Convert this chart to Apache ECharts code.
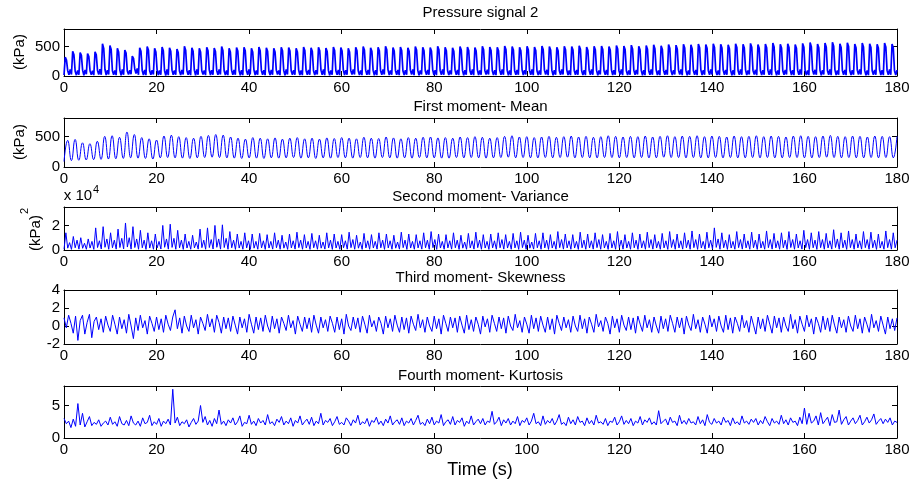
<!DOCTYPE html>
<html>
<head>
<meta charset="utf-8">
<script src="https://cdn.jsdelivr.net/npm/echarts@6/dist/echarts.min.js"></script>
<style>
  html, body { margin: 0; padding: 0; background: #fff; }
  #chart { width: 915px; height: 484px; }
</style>
</head>
<body>
<div id="chart"></div>
<script>
// record length (s), signals are evenly sampled over it
const duration = 180

const titles = ['Pressure signal 2', 'First moment- Mean', 'Second moment- Variance', 'Third moment- Skewness', 'Fourth moment- Kurtosis']
const yTickLabels = [[0, 500], [0, 500], [0, 20000], [-2, 0, 2, 4], [0, 5]]

// raw pressure (kPa), read cycle by cycle
const pressure = [
  15, 320, 270, 90, 20, 110,  25, 420, 360, 80, 15, 95,  20, 400, 350, 100, 10, 105,  30, 380, 330, 85, 20, 90,
  15, 410, 360, 95, 25, 115,  20, 550, 470, 110, 15, 100,  25, 520, 450, 90, 20, 95,  15, 470, 410, 100, 10, 110,
  20, 440, 390, 85, 25, 100,  30, 340, 300, 120, 40, 130,  20, 480, 420, 95, 15, 105,  15, 500, 440, 90, 20, 100,
  25, 470, 410, 105, 15, 95,  20, 495, 430, 90, 10, 110,  15, 480, 420, 100, 20, 95,  20, 460, 400, 85, 15, 105,
  25, 505, 440, 95, 20, 100,  15, 480, 420, 100, 10, 110,  20, 470, 410, 90, 25, 95,  15, 490, 430, 105, 15, 100,
  20, 475, 415, 95, 20, 110,  25, 500, 435, 90, 15, 95,  15, 470, 410, 100, 20, 105,  20, 485, 425, 95, 10, 100,
  15, 490, 430, 90, 20, 110,  25, 470, 410, 105, 15, 95,  20, 495, 430, 95, 20, 100,  15, 480, 420, 90, 15, 105,
  20, 470, 410, 100, 25, 95,  15, 490, 430, 95, 10, 110,  25, 485, 425, 90, 20, 100,  20, 470, 410, 105, 15, 95,
  15, 495, 435, 95, 20, 105,  20, 480, 420, 90, 15, 100,  25, 490, 430, 100, 20, 110,  15, 475, 415, 95, 10, 95,
  20, 495, 435, 90, 20, 105,  15, 485, 425, 105, 15, 100,  20, 470, 410, 95, 25, 110,  25, 490, 430, 90, 15, 95,
  15, 500, 440, 100, 20, 105,  20, 480, 420, 95, 10, 100,  15, 490, 430, 90, 20, 110,  25, 505, 445, 105, 15, 95,
  20, 485, 425, 95, 20, 105,  15, 495, 435, 90, 15, 100,  20, 480, 420, 100, 25, 110,  15, 500, 440, 95, 10, 95,
  25, 490, 430, 90, 20, 105,  20, 485, 425, 105, 15, 100,  15, 505, 445, 95, 20, 110,  20, 490, 430, 90, 15, 95,
  25, 480, 420, 100, 20, 105,  15, 500, 440, 95, 10, 100,  20, 495, 435, 90, 20, 110,  15, 485, 425, 105, 15, 95,
  20, 505, 445, 95, 25, 105,  25, 495, 435, 90, 15, 100,  15, 490, 430, 100, 20, 110,  20, 510, 450, 95, 10, 95,
  15, 500, 440, 90, 20, 105,  20, 490, 430, 105, 15, 100,  25, 505, 445, 95, 20, 110,  15, 495, 435, 90, 15, 95,
  20, 510, 450, 100, 25, 105,  15, 500, 440, 95, 10, 100,  20, 490, 430, 90, 20, 110,  25, 505, 445, 105, 15, 95,
  15, 500, 440, 95, 20, 105,  20, 515, 455, 90, 15, 100,  15, 495, 435, 100, 20, 110,  20, 505, 445, 95, 10, 95,
  25, 510, 450, 90, 20, 105,  15, 500, 440, 105, 15, 100,  20, 520, 460, 95, 25, 110,  15, 510, 450, 90, 15, 95,
  20, 525, 460, 100, 20, 105,  25, 505, 445, 95, 10, 100,  15, 520, 455, 90, 20, 110,  20, 530, 465, 105, 15, 95,
  15, 515, 450, 95, 20, 105,  20, 535, 470, 90, 15, 100,  25, 525, 460, 100, 25, 110,  15, 540, 475, 95, 10, 95,
  20, 530, 465, 90, 20, 105,  15, 545, 480, 105, 15, 100,  20, 535, 470, 95, 20, 110,  25, 550, 485, 90, 15, 95,
  15, 540, 475, 100, 20, 105,  20, 530, 465, 95, 10, 100,  15, 550, 485, 90, 20, 110,  20, 540, 475, 105, 15, 95,
  25, 555, 490, 95, 25, 105,  15, 535, 470, 90, 15, 100,  20, 545, 480, 100, 20, 110,  15, 560, 495, 95, 10, 95,
  20, 540, 475, 90, 20, 105,  25, 550, 485, 105, 15, 100,  15, 535, 470, 95, 20, 110,  20, 555, 490, 90, 15, 95,
  15, 570, 500, 100, 25, 105,  20, 545, 480, 95, 10, 100,  25, 560, 495, 90, 20, 110,  15, 575, 505, 105, 15, 95,
  20, 550, 485, 95, 20, 105,  15, 565, 500, 90, 15, 100,  20, 545, 480, 100, 25, 110,  25, 560, 495, 95, 10, 95,
  15, 550, 485, 90, 20, 105,  20, 540, 475, 105, 15, 100,  15, 560, 495, 95, 20, 110,  20, 545, 480, 90, 15, 100
]

// running mean (kPa): trough, crest, trough, crest ...
const mean = [
  90, 435, 105, 450, 110, 395, 115, 380, 120, 420, 125, 500, 130, 510, 135, 485, 140, 570, 150, 530,
  145, 480, 140, 460, 130, 440, 150, 505, 155, 520, 150, 495, 145, 480, 140, 470, 150, 500, 155, 515,
  160, 530, 155, 520, 150, 490, 145, 470, 140, 455, 150, 480, 145, 470, 140, 460, 150, 475, 145, 455,
  150, 470, 155, 480, 145, 460, 150, 470, 140, 455, 150, 475, 145, 465, 155, 480, 150, 470, 145, 460,
  155, 485, 150, 470, 145, 465, 155, 490, 150, 475, 145, 460, 150, 480, 145, 470, 155, 485, 150, 490,
  150, 475, 145, 480, 145, 470, 155, 490, 150, 480, 155, 495, 150, 485, 145, 470, 150, 480, 155, 500,
  160, 510, 150, 490, 155, 495, 150, 480, 150, 490, 155, 500, 150, 485, 155, 495, 160, 505, 150, 490,
  155, 500, 150, 485, 150, 495, 155, 510, 155, 500, 150, 490, 155, 500, 150, 495, 155, 505, 150, 490,
  150, 500, 160, 510, 155, 495, 155, 505, 150, 500, 155, 510, 150, 495, 150, 505, 155, 500, 150, 490,
  155, 505, 150, 495, 150, 500, 155, 510, 150, 495, 155, 505, 150, 500, 150, 490, 155, 505, 155, 510,
  150, 500, 150, 495, 155, 505, 160, 515, 155, 500, 150, 495, 155, 505, 150, 500, 150, 490, 155, 505,
  150, 500, 155, 495, 150, 500
]

// running variance (kPa^2): base, main spike, dip, second spike per cycle
const variance = [
  600, 14000, 1500, 6000,  500, 11000, 1800, 8000,  700, 10000, 1400, 5500,  600, 9000, 1600, 7000,
  500, 18000, 2000, 7500,  800, 19000, 2200, 9000,  600, 14000, 1800, 8000,  700, 17000, 2000, 9500,
  900, 22000, 2400, 10000,  700, 19000, 2000, 9000,  600, 16000, 1800, 8000,  500, 14000, 1600, 7500,
  600, 13000, 1700, 7000,  800, 20000, 2200, 9000,  700, 21000, 2100, 9500,  600, 16000, 1800, 8000,
  500, 13000, 1600, 7000,  600, 12000, 1700, 6500,  700, 17000, 1900, 8000,  600, 18000, 2000, 8500,
  800, 20000, 2200, 9000,  700, 20500, 2000, 9500,  600, 15000, 1800, 8000,  500, 13000, 1600, 7000,
  600, 14000, 1700, 7500,  500, 13000, 1500, 7000,  600, 13500, 1700, 7500,  500, 12500, 1600, 7000,
  700, 14000, 1800, 8000,  600, 12000, 1500, 6500,  500, 13000, 1700, 7500,  700, 14500, 1900, 8000,
  600, 12500, 1600, 7000,  500, 13500, 1800, 7500,  600, 12000, 1500, 6500,  700, 14000, 1700, 8000,
  500, 13000, 1600, 7000,  600, 12500, 1800, 7500,  700, 14500, 1900, 8500,  600, 12000, 1500, 6500,
  500, 13500, 1700, 7500,  600, 12500, 1600, 7000,  700, 14000, 1800, 8000,  500, 13000, 1700, 7500,
  600, 12000, 1500, 6500,  700, 14500, 1900, 8000,  500, 13000, 1600, 7000,  600, 12500, 1700, 7500,
  700, 14000, 1800, 8000,  600, 15000, 1900, 8500,  500, 13000, 1600, 7000,  600, 12500, 1700, 7500,
  700, 14000, 1800, 8000,  500, 12000, 1500, 6500,  600, 13500, 1700, 7500,  700, 14500, 1900, 8000,
  600, 12500, 1600, 7000,  500, 13000, 1700, 7500,  600, 14000, 1800, 8500,  700, 12500, 1600, 7000,
  600, 13500, 1700, 7500,  500, 14500, 1900, 8000,  600, 12000, 1500, 6500,  700, 13500, 1800, 7500,
  600, 14000, 1700, 8000,  500, 12500, 1600, 7000,  600, 15000, 1900, 8500,  700, 13000, 1700, 7500,
  600, 12500, 1600, 7000,  500, 14500, 1800, 8000,  600, 13000, 1700, 7500,  700, 14000, 1900, 8500,
  600, 12500, 1600, 7000,  500, 13500, 1700, 7500,  600, 15000, 1900, 8000,  700, 12500, 1600, 7000,
  600, 14000, 1800, 8000,  500, 13000, 1700, 7500,  600, 14500, 1900, 8500,  700, 12500, 1600, 7000,
  600, 13500, 1700, 7500,  500, 15000, 2000, 8500,  600, 13000, 1700, 7500,  700, 14000, 1800, 8000,
  600, 15500, 1900, 8500,  500, 13000, 1600, 7000,  600, 14500, 1800, 8000,  700, 18000, 2100, 9000,
  600, 14000, 1800, 8000,  500, 12500, 1600, 7000,  600, 15000, 1900, 8500,  700, 13000, 1700, 7500,
  600, 14500, 1800, 8000,  500, 13000, 1600, 7000,  600, 15500, 1900, 8500,  700, 13500, 1700, 7500,
  600, 14000, 1800, 8000,  500, 15000, 2000, 8500,  600, 13000, 1700, 7500,  700, 16000, 1900, 8500,
  600, 14000, 1800, 8000,  500, 15000, 1900, 8500,  600, 13500, 1700, 7500,  700, 16500, 2000, 9000,
  600, 14000, 1800, 8000,  500, 15500, 1900, 8500,  600, 13000, 1700, 7500,  700, 15000, 1900, 8500,
  600, 14500, 1800, 8000,  500, 13000, 1600, 7000,  600, 15500, 1900, 8500,  700, 14000, 1800, 8000
]

// running skewness, one value per 0.5 s
const skewness = [
  0.9, -0.2, 1.2, 0.3, -0.8, 1.1, -1.6, 0.6, 1.2, -0.9, 0.4, 1.3, -1.3, 0.5, 1.0, -0.4, 0.8, -0.7, 1.1, 0.1,
  -0.6, 1.2, 0.2, -0.9, 1.0, -0.3, 0.7, -0.8, 1.3, 0.0, -1.4, 0.9, -0.5, 1.2, -0.2, 0.6, -0.9, 1.1, 0.3, -0.6,
  1.0, -0.4, 0.8, -0.7, 1.2, 0.2, -0.5, 1.0, 1.8, -0.3, 0.9, -0.8, 1.1, 0.0, -0.6, 1.2, -0.2, 0.7, -0.9, 1.0,
  0.3, -0.5, 1.3, -0.1, 0.8, -0.7, 1.2, 0.4, -0.8, 1.0, -0.3, 0.9, -0.6, 1.1, 0.1, -0.9, 1.0, -0.2, 0.8, -0.7,
  1.3, 0.2, -0.8, 1.0, -0.4, 0.9, -0.6, 1.2, 0.0, -0.7, 1.1, -0.3, 0.8, -0.8, 1.0, 0.3, -0.5, 1.2, -0.2, 0.6,
  -0.9, 1.1, 0.2, -0.6, 1.0, -0.3, 0.9, -0.7, 1.2, 0.1, -0.8, 1.0, -0.2, 0.7, -0.6, 1.1, 0.3, -0.7, 1.0, -0.4,
  0.8, -0.9, 1.3, 0.0, -0.5, 1.0, -0.3, 0.9, -0.7, 1.1, 0.2, -0.8, 1.2, -0.1, 0.6, -0.6, 1.0, 0.3, -0.9, 1.1,
  -0.2, 0.8, -0.6, 1.2, 0.1, -0.7, 1.0, -0.4, 0.9, -0.8, 1.1, 0.2, -0.5, 1.3, -0.2, 0.7, -0.7, 1.0, 0.0, -0.6,
  1.1, -0.3, 0.8, -0.9, 1.2, 0.3, -0.6, 1.0, -0.2, 0.9, -0.7, 1.1, 0.1, -0.8, 1.2, -0.4, 0.7, -0.6, 1.0, 0.2,
  -0.9, 1.1, -0.1, 0.8, -0.7, 1.2, 0.3, -0.6, 1.0, -0.3, 0.9, -0.8, 1.1, 0.0, -0.5, 1.3, -0.2, 0.6, -0.7, 1.0,
  0.2, -0.8, 1.2, -0.3, 0.9, -0.6, 1.1, 0.1, -0.7, 1.0, -0.4, 0.8, -0.9, 1.2, 0.3, -0.5, 1.0, -0.2, 0.7, -0.7,
  1.1, 0.0, -0.6, 1.2, -0.3, 0.8, -0.8, 1.0, 0.2, -0.7, 1.3, -0.1, 0.6, -0.6, 1.0, 0.3, -0.9, 1.1, -0.2, 0.8,
  -0.7, 1.2, 0.1, -0.5, 1.0, -0.4, 0.9, -0.8, 1.1, 0.2, -0.6, 1.2, -0.2, 0.7, -0.7, 1.0, 0.0, -0.8, 1.1, -0.3,
  0.8, -0.6, 1.2, 0.3, -0.7, 1.0, -0.2, 0.9, -0.9, 1.1, 0.1, -0.5, 1.3, -0.3, 0.7, -0.7, 1.0, 0.2, -0.8, 1.2,
  -0.1, 0.8, -0.6, 1.1, 0.0, -0.7, 1.2, -0.4, 0.9, -0.8, 1.0, 0.3, -0.6, 1.2, -0.2, 0.6, -0.7, 1.1, 0.1, -0.9,
  1.0, -0.3, 0.8, -0.6, 1.2, 0.2, -0.8, 1.1, -0.2, 0.9, -0.7, 1.0, 0.0, -0.6, 1.3, -0.3, 0.7, -0.8, 1.1, 0.2,
  -0.6, 1.2, -0.1, 0.8, -0.9, 1.0, 0.3, -0.7, 1.1, -0.4, 0.9, -0.6, 1.2, 0.1, -0.8, 1.0, -0.2, 0.7, -0.7, 1.1,
  0.0, -0.6, 1.2, -0.3, 0.8, -0.8, 1.0, 0.2, -0.7, 1.3, -0.2, 0.6, -0.6, 1.1, 0.1, -0.9, 1.0, -0.3, 0.8, -0.5,
  0.9
]

// running kurtosis, one value per 0.5 s
const kurtosis = [
  3.0, 2.2, 2.6, 1.6, 2.9, 1.8, 5.3, 2.0, 3.8, 1.7, 2.5, 3.3, 1.9, 2.4, 2.1, 2.8, 1.8, 2.3, 2.6, 2.0,
  3.2, 2.1, 2.5, 1.8, 3.3, 2.2, 2.0, 2.7, 1.9, 3.4, 2.3, 2.0, 2.6, 1.8, 3.1, 2.2, 2.4, 3.5, 1.9, 2.5,
  2.1, 3.0, 1.8, 2.6, 2.2, 2.9, 2.0, 7.5, 2.3, 3.2, 1.9, 2.5, 2.2, 2.8, 1.7, 2.4, 3.0, 2.1, 2.6, 5.0,
  2.4, 3.3, 2.0, 2.7, 1.8, 3.0, 2.2, 4.3, 2.1, 2.6, 1.9, 2.8, 2.3, 3.1, 2.0, 2.5, 3.4, 1.8, 2.4, 2.2,
  3.5, 2.1, 2.6, 1.9, 3.0, 2.3, 2.7, 2.0, 3.6, 2.2, 2.5, 1.9, 2.9, 2.4, 3.3, 2.0, 2.6, 2.2, 3.1, 1.8,
  2.7, 2.3, 3.4, 2.0, 2.5, 2.9, 2.1, 3.2, 1.9, 2.6, 2.2, 3.8, 2.0, 2.7, 2.4, 3.0, 1.9, 2.5, 3.3, 2.1,
  2.4, 2.0, 3.1, 2.6, 1.9, 2.8, 2.3, 3.5, 2.0, 2.5, 2.2, 3.0, 1.8, 2.7, 2.4, 3.2, 2.1, 2.6, 1.9, 2.9,
  2.3, 3.4, 2.0, 2.5, 2.8, 2.1, 3.1, 1.9, 2.6, 2.3, 3.0, 2.0, 2.7, 3.5, 2.1, 2.4, 1.9, 2.9, 2.2, 3.2,
  2.0, 2.6, 2.3, 3.6, 1.9, 2.5, 2.8, 2.1, 3.3, 2.0, 2.7, 2.4, 3.1, 1.8, 2.6, 2.2, 3.4, 2.0, 2.5, 2.9,
  2.2, 3.0, 2.0, 2.6, 2.4, 4.1, 2.1, 2.5, 3.2, 1.9, 2.8, 2.3, 3.0, 2.0, 2.6, 2.2, 3.3, 1.9, 2.7, 2.4,
  3.1, 2.0, 2.6, 3.8, 2.2, 2.5, 1.9, 3.4, 2.1, 2.7, 2.3, 3.0, 2.0, 2.6, 3.6, 2.1, 2.4, 1.9, 3.2, 2.2,
  2.8, 2.0, 3.3, 2.4, 2.6, 1.9, 3.1, 2.2, 2.7, 2.0, 3.5, 2.3, 2.5, 2.1, 3.0, 1.9, 2.6, 2.4, 3.2, 2.0,
  2.5, 3.4, 2.1, 2.7, 2.2, 3.0, 1.9, 2.6, 2.3, 3.3, 2.0, 2.8, 2.4, 3.1, 2.1, 2.5, 2.0, 4.2, 2.2, 2.6,
  2.9, 2.0, 3.2, 2.4, 2.6, 1.9, 3.5, 2.2, 2.7, 2.1, 3.0, 2.3, 2.5, 2.0, 3.3, 2.2, 2.8, 1.9, 3.6, 2.4,
  2.1, 3.0, 2.3, 2.6, 2.0, 3.2, 2.4, 2.7, 1.9, 3.1, 2.2, 2.5, 2.0, 3.4, 2.3, 2.6, 2.1, 2.9, 2.4, 3.0,
  2.0, 2.7, 2.2, 3.3, 2.5, 1.9, 3.0, 2.3, 2.6, 2.1, 3.5, 2.2, 2.8, 2.0, 3.1, 2.4, 2.6, 1.9, 3.2, 2.2,
  4.6, 2.1, 3.8, 2.3, 2.6, 3.4, 2.0, 3.9, 2.2, 2.7, 3.2, 1.9, 3.6, 2.4, 2.5, 4.3, 2.1, 2.8, 3.3, 2.0,
  2.6, 3.1, 2.2, 2.7, 3.5, 2.0, 2.5, 3.2, 2.3, 2.8, 3.7, 2.1, 2.6, 3.0, 2.2, 2.9, 2.4, 3.1, 2.0, 2.6,
  2.4
]

const FONT = 'Arial, "Liberation Sans", sans-serif'
const BLUE = '#0000ff'

const panels = [
  { values: pressure, top: 29, height: 47, min: 0, max: 800, interval: 500, width: 1.7 },
  { values: mean, top: 118, height: 49, min: 0, max: 800, interval: 500, width: 1, smooth: 0.5 },
  { values: variance, top: 207, height: 43, min: 0, max: 35000, interval: 20000, width: 1, scale: 1e4 },
  { values: skewness, top: 290, height: 54, min: -2, max: 4, interval: 2, width: 1 },
  { values: kurtosis, top: 386, height: 52, min: 0, max: 8, interval: 5, width: 1 }
]

const toSeriesData = (values) => values.map((v, i) => [i * duration / (values.length - 1), v])

const axisLine = { onZero: false, lineStyle: { color: '#000', width: 1 } }
const axisTick = { inside: true, length: 5, lineStyle: { color: '#000' } }

const grid = []
const xAxis = []
const yAxis = []
const series = []

panels.forEach((p, i) => {
  grid.push({ left: 64, right: 18, top: p.top, height: p.height, show: false })

  const xBase = { type: 'value', gridIndex: i, min: 0, max: duration, interval: 20, axisLine, axisTick, splitLine: { show: false } }
  xAxis.push({ ...xBase, position: 'bottom', axisLabel: { color: '#000', fontSize: 15, fontFamily: FONT, margin: 4 } })
  xAxis.push({ ...xBase, position: 'top', axisLabel: { show: false } })

  const shown = yTickLabels[i]
  const yBase = { type: 'value', gridIndex: i, min: p.min, max: p.max, interval: p.interval, axisLine, axisTick, splitLine: { show: false } }
  yAxis.push({
    ...yBase,
    position: 'left',
    axisLabel: {
      color: '#000', fontSize: 15, fontFamily: FONT, margin: 4,
      formatter: (v) => shown.includes(v) ? String(p.scale ? v / p.scale : v) : ''
    }
  })
  yAxis.push({ ...yBase, position: 'right', axisLabel: { show: false } })

  series.push({
    type: 'line',
    xAxisIndex: i * 2,
    yAxisIndex: i * 2,
    data: toSeriesData(p.values),
    symbol: 'none',
    smooth: p.smooth || false,
    lineStyle: { color: BLUE, width: p.width },
    itemStyle: { color: BLUE },
    animation: false
  })
})

const text = (x, y, str, size, extra = {}) => ({
  type: 'text', x, y, silent: true, ...extra,
  style: { text: str, fontSize: size, fontFamily: FONT, fill: '#000', align: 'center', verticalAlign: 'middle', textAlign: 'center', textVerticalAlign: 'middle' }
})

const titleY = [13, 107, 197, 278, 376]
const graphic = titles.map((t, i) => text(480.5, titleY[i], t, 15))
graphic.push(
  text(20, 52, '(kPa)', 15, { rotation: Math.PI / 2 }),
  text(20, 142, '(kPa)', 15, { rotation: Math.PI / 2 }),
  text(36, 233, '(kPa)', 15, { rotation: Math.PI / 2 }),
  text(25, 211, '2', 11, { rotation: Math.PI / 2 }),
  text(78, 196, 'x 10', 15),
  text(96, 190, '4', 11),
  text(480, 470, 'Time (s)', 18)
)

const chart = echarts.init(document.getElementById('chart'), null, { renderer: 'canvas' })
chart.setOption({
  animation: false,
  backgroundColor: '#fff',
  grid,
  xAxis,
  yAxis,
  series,
  graphic
})
</script>
</body>
</html>
